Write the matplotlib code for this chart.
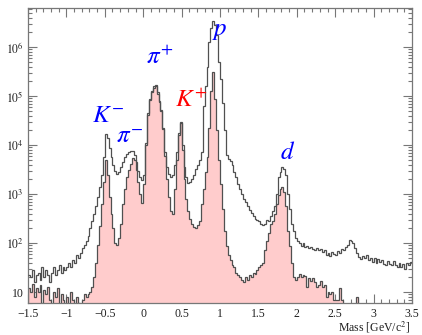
import numpy as np
import matplotlib
matplotlib.use("Agg")
import matplotlib.pyplot as plt
from matplotlib.ticker import FixedLocator, FixedFormatter, LogLocator, NullFormatter, MultipleLocator

plt.rcParams['font.family'] = ['Liberation Serif', 'DejaVu Serif']
plt.rcParams['mathtext.fontset'] = 'stix'

# Mass histogram binning: 200 bins of 0.025 GeV/c^2 from -1.5 to 3.5
x_min, x_max, n_bins = -1.5, 3.5, 200

# All reconstructed tracks (counts per bin)
all_tracks = [
    # -1.5 .. -1.0
    22, 20, 28, 16, 22, 25, 18, 32, 20, 28, 22, 16, 25, 32, 22, 28, 35, 25, 32, 28,
    # -1.0 .. -0.5
    32, 40, 32, 45, 40, 56, 50, 63, 80, 90, 110, 140, 200, 280, 400, 560, 890, 1400, 2500, 5600,
    # -0.5 .. 0.0
    17000, 14000, 8900, 5600, 4000, 3000, 2600, 2800, 3500, 4500, 5600, 6600, 7200, 7600, 7600, 6300, 4500, 3000, 2200, 1900,
    # 0.0 .. 0.5
    2500, 11000, 45000, 89000, 126000, 158000, 166000, 120000, 79000, 52000, 22000, 7100, 3500, 2600, 2200, 2500, 4000, 7100, 18000, 30000,
    # 0.5 .. 1.0
    10000, 3500, 2200, 1700, 1800, 2000, 2500, 3200, 4000, 5000, 7100, 63000, 158000, 400000, 1260000, 2500000, 3400000, 2800000, 1800000, 500000,
    # 1.0 .. 1.5
    224000, 71000, 20000, 6300, 5200, 4800, 4000, 2800, 2200, 1600, 1260, 1000, 800, 680, 575, 480, 420, 355, 316, 295,
    # 1.5 .. 2.0
    280, 250, 235, 250, 295, 280, 355, 450, 560, 1000, 2240, 2800, 3500, 3200, 2500, 1000, 500, 250, 180, 126,
    # 2.0 .. 2.5
    112, 100, 89, 100, 83, 89, 79, 83, 76, 71, 79, 71, 76, 66, 71, 58, 63, 55, 66, 60,
    # 2.5 .. 3.0
    58, 69, 63, 76, 72, 83, 91, 115, 112, 100, 79, 63, 52, 48, 55, 50, 58, 45, 50, 42,
    # 3.0 .. 3.5
    49, 40, 48, 42, 46, 38, 35, 43, 38, 35, 44, 36, 32, 40, 33, 38, 30, 40, 36, 42,
]

# Tracks passing the selection (counts per bin)
selected = [
    # -1.5 .. -1.0
    12, 10, 15, 8, 12, 10, 14, 6, 11, 9, 13, 7, 0, 10, 8, 12, 0, 9, 7, 0,
    # -1.0 .. -0.5
    8, 0, 10, 7, 0, 8, 6, 0, 7, 9, 8, 9, 10, 13, 20, 40, 90, 220, 630, 1800,
    # -0.5 .. 0.0
    4900, 2500, 890, 400, 200, 100, 91, 126, 250, 630, 1260, 2240, 3160, 4170, 5500, 5000, 3160, 1780, 1000, 660,
    # 0.0 .. 0.5
    1600, 10000, 42000, 85000, 120000, 150000, 158000, 112000, 76000, 50000, 21000, 6000, 2000, 890, 450, 400, 1260, 5000, 16000, 28000,
    # 0.5 .. 1.0
    7900, 2000, 800, 450, 316, 250, 210, 200, 240, 280, 630, 1260, 2800, 5600, 22000, 126000, 310000, 89000, 20000, 5000,
    # 1.0 .. 1.5
    1600, 500, 180, 89, 56, 45, 35, 32, 25, 22, 20, 18, 16, 20, 18, 22, 20, 25, 24, 28,
    # 1.5 .. 2.0
    32, 35, 40, 71, 112, 160, 250, 280, 400, 630, 950, 1260, 1380, 1120, 560, 180, 89, 40, 20, 18,
    # 2.0 .. 2.5
    20, 24, 20, 22, 21, 13, 19, 17, 19, 16, 13, 14, 17, 13, 14, 8, 10, 9, 10, 7,
    # 2.5 .. 3.0
    7, 7, 12, 7, 0, 0, 0, 0, 0, 0, 0, 8, 0, 0, 0, 0, 0, 0, 0, 0,
    # 3.0 .. 3.5
    0, 0, 0, 0, 0, 0, 0, 0, 0, 0, 0, 0, 0, 0, 0, 0, 0, 0, 0, 0,
]

x_ticks = [-1.5, -1.0, -0.5, 0.0, 0.5, 1.0, 1.5, 2.0, 2.5, 3.0, 3.5]
x_tick_labels = ['\u22121.5', '\u22121', '\u22120.5', '0', '0.5', '1', '1.5', '2', '2.5', '3', '3.5']
y_ticks = [1e1, 1e2, 1e3, 1e4, 1e5, 1e6]
y_tick_labels = ['10', '$10^{2}$', '$10^{3}$', '$10^{4}$', '$10^{5}$', '$10^{6}$']

# Particle labels: text, x, y, colour
particles = [
    (r'$K^{-}$', -0.46, 3.9e4, 'blue'),
    (r'$\pi^{-}$', -0.18, 1.45e4, 'blue'),
    (r'$\pi^{+}$', 0.22, 6.3e5, 'blue'),
    (r'$K^{+}$', 0.62, 8.3e4, 'red'),
    (r'$p$', 1.0, 2.1e6, 'blue'),
    (r'$d$', 1.88, 6.9e3, 'blue'),
]

edges = np.linspace(x_min, x_max, n_bins + 1)
all_arr = np.asarray(all_tracks, dtype=float)
sel_arr = np.asarray(selected, dtype=float)
floor = 1.0  # below the visible range on the log axis
sel_plot = np.maximum(sel_arr, floor)

W, H = 422, 335
fig = plt.figure(figsize=(W / 100, H / 100), dpi=100)
ax = fig.add_axes([28 / W, 32 / H, 384 / W, 295 / H])
ax.set_axisbelow(True)

line_col = '#505050'
ax.stairs(sel_plot, edges, baseline=floor, fill=True, color='#ffcccc', zorder=1)
ax.stairs(sel_plot, edges, baseline=floor, fill=False, color=line_col, lw=0.9, zorder=2)
ax.stairs(all_arr, edges, baseline=None, fill=False, color=line_col, lw=0.9, zorder=3)

ax.set_yscale('log')
ax.set_xlim(x_min, x_max)
ax.set_ylim(6.0, 6.3e6)

ax.xaxis.set_major_locator(FixedLocator(x_ticks))
ax.xaxis.set_major_formatter(FixedFormatter(x_tick_labels))
ax.xaxis.set_minor_locator(MultipleLocator(0.1))
ax.yaxis.set_major_locator(FixedLocator(y_ticks))
ax.yaxis.set_major_formatter(FixedFormatter(y_tick_labels))
ax.yaxis.set_minor_locator(LogLocator(base=10, subs=np.arange(2, 10), numticks=20))
ax.yaxis.set_minor_formatter(NullFormatter())

frame_col = '#777777'
for s in ax.spines.values():
    s.set_color(frame_col)
    s.set_linewidth(0.9)

ax.tick_params(which='both', direction='in', top=True, right=True,
               color=frame_col, width=0.8, labelsize=8.5, labelcolor='#202020')
ax.tick_params(which='major', length=6.5)
ax.tick_params(which='minor', length=3.2)
ax.tick_params(axis='x', pad=3.5)
ax.tick_params(axis='y', pad=3)

for txt, xx, yy, col in particles:
    ax.text(xx, yy, txt, color=col, fontsize=18, ha='center', va='center', zorder=5)

fig.text(410 / W, 1 - 327 / H, 'Mass [GeV/c$^{2}$]', ha='right', va='center',
         fontsize=8.5, color='#202020')

fig.savefig('out.png', dpi=100)
